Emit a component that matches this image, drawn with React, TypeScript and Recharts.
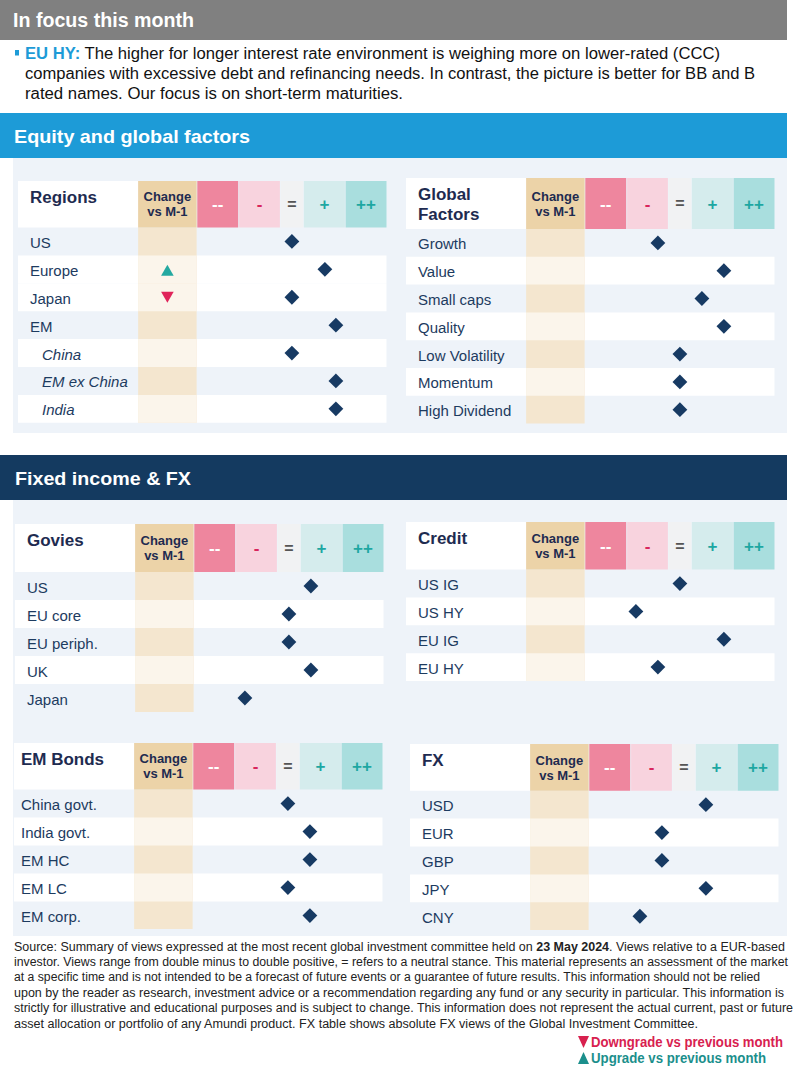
import React from 'react';
import { ScatterChart, Scatter, XAxis, YAxis, ReferenceArea } from 'recharts';

// ---------------- DATA ----------------
const regionLabels = ['US', 'Europe', 'Japan', 'EM', 'China', 'EM ex China', 'India'];
const regionViews = [0, 1.5, 0, 2, 0, 2, 2];
const regionChanges = ['', 'up', 'down', '', '', '', ''];
const regionItalic = [false, false, false, false, true, true, true];

const factorLabels = ['Growth', 'Value', 'Small caps', 'Quality', 'Low Volatility', 'Momentum', 'High Dividend'];
const factorViews = [-1, 2, 1, 2, 0, 0, 0];

const goviesLabels = ['US', 'EU core', 'EU periph.', 'UK', 'Japan'];
const goviesViews = [1, 0, 0, 1, -2];

const creditLabels = ['US IG', 'US HY', 'EU IG', 'EU HY'];
const creditViews = [0, -2, 2, -1];

const emBondLabels = ['China govt.', 'India govt.', 'EM HC', 'EM LC', 'EM corp.'];
const emBondViews = [0, 1, 1, 0, 1];

const fxLabels = ['USD', 'EUR', 'GBP', 'JPY', 'CNY'];
const fxViews = [1, -1, -1, 1, -2];

const stanceLabels = ['--', '-', '=', '+', '++'];
const changeHeader = ['Change', 'vs M-1'];

const focusLine1 = ' The higher for longer interest rate environment is weighing more on lower-rated (CCC)';
const focusLine2 = 'companies with excessive debt and refinancing needs. In contrast, the picture is better for BB and B';
const focusLine3 = 'rated names. Our focus is on short-term maturities.';

const footerLines = [
  'investor. Views range from double minus to double positive, = refers to a neutral stance. This material represents an assessment of the market',
  'at a specific time and is not intended to be a forecast of future events or a guarantee of future results. This information should not be relied',
  'upon by the reader as research, investment advice or a recommendation regarding any fund or any security in particular. This information is',
  'strictly for illustrative and educational purposes and is subject to change. This information does not represent the actual current, past or future',
  'asset allocation or portfolio of any Amundi product. FX table shows absolute FX views of the Global Investment Committee.',
];

// ---------------- LAYOUT / STYLE ----------------
const FONT = "'Liberation Sans', Arial, Helvetica, sans-serif";
const NARROW = "'Liberation Sans Narrow', 'Arial Narrow', 'Liberation Sans', Arial, sans-serif";
const UNIT = 22;
const X_MIN = -12.45;
const X_MAX = 4.3;
const CHG = { x1: -6.99, x2: -4.33 };
const CHG_CENTER = (CHG.x1 + CHG.x2) / 2;
const STANCE_COLS = [
  { x1: -4.3, x2: -2.44, fill: '#ee869e', color: '#ffffff', size: 17 },
  { x1: -2.4, x2: -0.545, fill: '#f8d3de', color: '#d8265c', size: 17 },
  { x1: -0.51, x2: 0.51, fill: '#f1f2f3', color: '#555555', size: 16 },
  { x1: 0.545, x2: 2.41, fill: '#d5eced', color: '#1ea7a2', size: 17 },
  { x1: 2.44, x2: 4.3, fill: '#a9dede', color: '#1ea7a2', size: 17 },
];
const NAVY = '#173a63';
const TITLE_COLOR = '#1e2b50';
const LABEL_COLOR = '#1d3b60';
const PANEL_BG = '#eef3f9';

type PanelProps = {
  title: string[];
  labels: string[];
  views: number[];
  changes?: string[];
  italic?: boolean[];
  whiteRows?: number[];
  left: number;
  top: number;
  headerH: number;
  rowH: number;
  labelDx: number;
};

const Diamond = (props: any) => {
  const { cx, cy } = props;
  const r = 7.4;
  return <path d={`M${cx},${cy - r}L${cx + r},${cy}L${cx},${cy + r}L${cx - r},${cy}Z`} fill={NAVY} />;
};

const Arrow = (props: any) => {
  const { cx, cy, payload } = props;
  const w = 6.3;
  const h = 5.5;
  if (payload.dir === 'up') {
    return <path d={`M${cx},${cy - h + 1}L${cx + w},${cy + h + 1}L${cx - w},${cy + h + 1}Z`} fill="#24a9a1" />;
  }
  return <path d={`M${cx - w},${cy - h}L${cx + w},${cy - h}L${cx},${cy + h}Z`} fill="#e0245a" />;
};

function centerText(lines: string[], color: string, size: number, lineGap: number) {
  return (props: any) => {
    const vb = props.viewBox || {};
    const cx = vb.x + vb.width / 2;
    const cy = vb.y + vb.height / 2;
    const start = cy - ((lines.length - 1) * lineGap) / 2;
    return (
      <text textAnchor="middle" fontFamily={FONT} fontWeight={700} fontSize={size} fill={color}>
        {lines.map((l, i) => (
          <tspan key={i} x={cx} y={start + i * lineGap + size * 0.36}>
            {l}
          </tspan>
        ))}
      </text>
    );
  };
}

function titleText(lines: string[], dx: number) {
  return (props: any) => {
    const vb = props.viewBox || {};
    return (
      <text fontFamily={FONT} fontWeight={700} fontSize={17} fill={TITLE_COLOR}>
        {lines.map((l, i) => (
          <tspan key={i} x={vb.x + dx} y={vb.y + 22 + i * 20}>
            {l}
          </tspan>
        ))}
      </text>
    );
  };
}

function rowText(label: string, dx: number, italic: boolean) {
  return (props: any) => {
    const vb = props.viewBox || {};
    return (
      <text
        x={vb.x + dx + (italic ? 12 : 0)}
        y={vb.y + vb.height / 2 + 6.5}
        fontFamily={FONT}
        fontSize={15}
        fontStyle={italic ? 'italic' : 'normal'}
        fill={LABEL_COLOR}
      >
        {label}
      </text>
    );
  };
}

function Panel(p: PanelProps) {
  const n = p.labels.length;
  const hh = p.headerH / p.rowH;
  const yMin = -0.5 - hh;
  const yMax = n - 0.5;
  const width = (X_MAX - X_MIN) * UNIT;
  const height = p.headerH + n * p.rowH;
  const rows = p.labels.map((_, i) => i);
  const whiteRows = p.whiteRows || rows.filter((i) => i % 2 === 1);
  const viewData = p.views.map((v, i) => ({ x: v, y: i }));
  const changeData = (p.changes || [])
    .map((c, i) => ({ x: CHG_CENTER, y: i, dir: c }))
    .filter((d) => d.dir);

  return (
    <div style={{ position: 'absolute', left: p.left, top: p.top }}>
      <ScatterChart width={width} height={height} margin={{ top: 0, right: 0, bottom: 0, left: 0 }}>
        <XAxis type="number" dataKey="x" domain={[X_MIN, X_MAX]} hide allowDataOverflow />
        <YAxis type="number" dataKey="y" domain={[yMin, yMax]} reversed allowDataOverflow hide width={0} />
        {/* header label cell */}
        <ReferenceArea
          x1={X_MIN}
          x2={CHG.x1}
          y1={yMin}
          y2={-0.5}
          fill="#ffffff"
          fillOpacity={1}
          stroke="none"
          ifOverflow="visible"
          label={titleText(p.title, p.labelDx)}
        />
        {/* white row stripes */}
        {whiteRows.map((i) => (
          <ReferenceArea
            key={'w' + i}
            x1={X_MIN}
            x2={X_MAX}
            y1={i - 0.5}
            y2={i + 0.5}
            fill="#ffffff"
            fillOpacity={1}
            stroke="none"
            ifOverflow="visible"
          />
        ))}
        {/* change column */}
        <ReferenceArea
          x1={CHG.x1}
          x2={CHG.x2}
          y1={-0.5}
          y2={yMax}
          fill="#f4e6cf"
          fillOpacity={1}
          stroke="none"
          ifOverflow="visible"
        />
        {whiteRows.map((i) => (
          <ReferenceArea
            key={'cw' + i}
            x1={CHG.x1}
            x2={CHG.x2}
            y1={i - 0.5}
            y2={i + 0.5}
            fill="#fbf5eb"
            fillOpacity={1}
            stroke="none"
            ifOverflow="visible"
          />
        ))}
        {/* row labels */}
        {rows.map((i) => (
          <ReferenceArea
            key={'l' + i}
            x1={X_MIN}
            x2={CHG.x1}
            y1={i - 0.5}
            y2={i + 0.5}
            fill="#ffffff"
            fillOpacity={0}
            stroke="none"
            ifOverflow="visible"
            label={rowText(p.labels[i], p.labelDx, p.italic ? p.italic[i] : false)}
          />
        ))}
        <ReferenceArea
          x1={CHG.x1}
          x2={CHG.x2}
          y1={yMin}
          y2={-0.5}
          fill="#ecd3a8"
          fillOpacity={1}
          stroke="none"
          ifOverflow="visible"
          label={centerText(changeHeader, TITLE_COLOR, 13, 15)}
        />
        {STANCE_COLS.map((c, k) => (
          <ReferenceArea
            key={'s' + k}
            x1={c.x1}
            x2={c.x2}
            y1={yMin}
            y2={-0.5}
            fill={c.fill}
            fillOpacity={1}
            stroke="none"
            ifOverflow="visible"
            label={centerText([stanceLabels[k]], c.color, c.size, 0)}
          />
        ))}
        <Scatter data={changeData} shape={Arrow} isAnimationActive={false} />
        <Scatter data={viewData} shape={Diamond} isAnimationActive={false} />
      </ScatterChart>
    </div>
  );
}

function Background() {
  return (
    <svg width={800} height={1076} style={{ position: 'absolute', left: 0, top: 0 }}>
      <rect x={0} y={0} width={787} height={40} fill="#808080" />
      <text x={13} y={26.5} fill="#ffffff" fontFamily={FONT} fontWeight={700} fontSize={19.5} textLength={181} lengthAdjust="spacingAndGlyphs">
        In focus this month
      </text>
      <rect x={15} y={50} width={4} height={5.5} fill="#1d9bd7" />
      <text x={25} y={58.5} fontFamily={NARROW} fontSize={16} textLength={695} lengthAdjust="spacingAndGlyphs">
        <tspan fill="#1d9bd7" fontWeight={700}>EU HY:</tspan>
        <tspan fill="#111111">{focusLine1}</tspan>
      </text>
      <text x={25} y={78.5} fontFamily={NARROW} fontSize={16} fill="#111111" textLength={730} lengthAdjust="spacingAndGlyphs">
        {focusLine2}
      </text>
      <text x={25} y={98.5} fontFamily={NARROW} fontSize={16} fill="#111111" textLength={378} lengthAdjust="spacingAndGlyphs">
        {focusLine3}
      </text>

      <rect x={0} y={113} width={787} height={45} fill="#1d9bd7" />
      <text x={14} y={142.5} fill="#ffffff" fontFamily={FONT} fontWeight={700} fontSize={19} textLength={236} lengthAdjust="spacingAndGlyphs">
        Equity and global factors
      </text>
      <rect x={13} y={158} width={774} height={275} fill={PANEL_BG} />

      <rect x={0} y={455} width={787} height={45} fill="#143a60" />
      <text x={15} y={484.5} fill="#ffffff" fontFamily={FONT} fontWeight={700} fontSize={19} textLength={176} lengthAdjust="spacingAndGlyphs">
        Fixed income &amp; FX
      </text>
      <rect x={13} y={500} width={774} height={436} fill={PANEL_BG} />

      <text x={14} y={950.5} fontFamily={NARROW} fontSize={12.5} fill="#222222" textLength={771} lengthAdjust="spacingAndGlyphs">
        <tspan>Source: Summary of views expressed at the most recent global investment committee held on </tspan>
        <tspan fontWeight={700}>23 May 2024</tspan>
        <tspan>. Views relative to a EUR-based</tspan>
      </text>
      {footerLines.map((l, i) => (
        <text
          key={i}
          x={14}
          y={950.5 + (i + 1) * 15.4}
          fontFamily={NARROW}
          fontSize={12.5}
          fill="#222222"
          textLength={[774, 746, 770, 779, 684][i]}
          lengthAdjust="spacingAndGlyphs"
        >
          {l}
        </text>
      ))}
      <path d="M578,1036L589,1036L583.5,1048Z" fill="#d8214f" />
      <text x={591} y={1047} fontFamily={NARROW} fontWeight={700} fontSize={14} fill="#d8214f" textLength={192} lengthAdjust="spacingAndGlyphs">
        Downgrade vs previous month
      </text>
      <path d="M583.5,1052L589,1064L578,1064Z" fill="#1b8f8c" />
      <text x={591} y={1063} fontFamily={NARROW} fontWeight={700} fontSize={14} fill="#1b8f8c" textLength={175} lengthAdjust="spacingAndGlyphs">
        Upgrade vs previous month
      </text>
    </svg>
  );
}

export default function App() {
  return (
    <div style={{ position: 'absolute', left: 0, top: 0, width: 800, height: 1076, background: '#ffffff', fontFamily: FONT }}>
      <Background />
      <Panel
        title={['Regions']}
        labels={regionLabels}
        views={regionViews}
        changes={regionChanges}
        italic={regionItalic}
        whiteRows={[1, 2, 4, 6]}
        left={18}
        top={181}
        headerH={46.5}
        rowH={27.9}
        labelDx={12}
      />
      <Panel
        title={['Global', 'Factors']}
        labels={factorLabels}
        views={factorViews}
        left={406}
        top={178.3}
        headerH={51}
        rowH={27.8}
        labelDx={12}
      />
      <Panel title={['Govies']} labels={goviesLabels} views={goviesViews} left={15} top={524} headerH={48} rowH={28} labelDx={12} />
      <Panel title={['Credit']} labels={creditLabels} views={creditViews} left={406} top={521.7} headerH={47.6} rowH={27.85} labelDx={12} />
      <Panel title={['EM Bonds']} labels={emBondLabels} views={emBondViews} left={14} top={742.7} headerH={46.6} rowH={28} labelDx={7} />
      <Panel title={['FX']} labels={fxLabels} views={fxViews} left={410} top={744} headerH={46.7} rowH={27.9} labelDx={12} />
    </div>
  );
}
